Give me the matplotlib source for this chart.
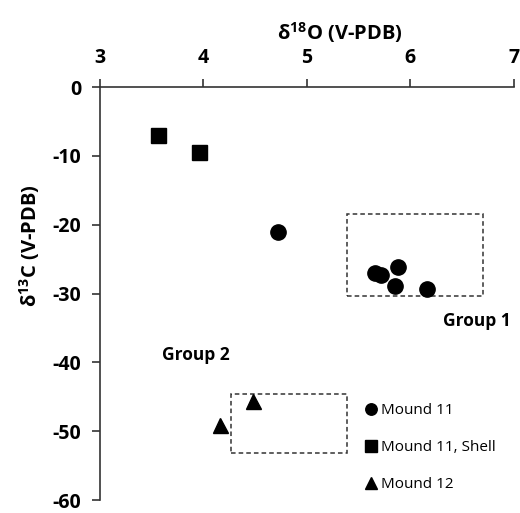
import matplotlib
matplotlib.use("Agg")
import matplotlib.pyplot as plt
from matplotlib.patches import Rectangle

plt.rcParams['font.family'] = ['Open Sans', 'DejaVu Sans']
plt.rcParams['mathtext.fontset'] = 'custom'
plt.rcParams['mathtext.rm'] = 'Open Sans:bold'
plt.rcParams['mathtext.bf'] = 'Open Sans:bold'
plt.rcParams['axes.unicode_minus'] = False

# data
m11_d18o = [4.72, 5.66, 5.72, 5.88, 5.85, 6.16]
m11_d13c = [-21.1, -27.0, -27.3, -26.1, -28.9, -29.4]
shell_d18o = [3.56, 3.96]
shell_d13c = [-6.9, -9.5]
m12_d18o = [4.16, 4.48]
m12_d13c = [-49.1, -45.6]

# group boxes: (x0, y0, x1, y1)
group1_box = (5.39, -30.3, 6.70, -18.5)
group2_box = (4.27, -53.2, 5.39, -44.6)

xticks = [3, 4, 5, 6, 7]
yticks = [0, -10, -20, -30, -40, -50, -60]

fig = plt.figure(figsize=(5.2, 5.13), dpi=100)
ax = fig.add_axes([0.1923, 0.0253, 0.7957, 0.8051])

ax.plot(m11_d18o, m11_d13c, 'o', color='black', markersize=11, label='Mound 11', clip_on=False)
ax.plot(shell_d18o, shell_d13c, 's', color='black', markersize=10.8, label='Mound 11, Shell', clip_on=False)
ax.plot(m12_d18o, m12_d13c, '^', color='black', markersize=10.8, label='Mound 12', clip_on=False)

for x0, y0, x1, y1 in [group1_box, group2_box]:
    ax.add_patch(Rectangle((x0, y0), x1 - x0, y1 - y0, fill=False,
                           edgecolor='#333333', linestyle=(0, (3, 2)), linewidth=1.1))

ax.text(6.32, -34.0, 'Group 1', fontsize=12.5, fontweight='bold', va='center', ha='left')
ax.text(3.6, -38.9, 'Group 2', fontsize=12.5, fontweight='bold', va='center', ha='left')

ax.set_xlim(3, 7)
ax.set_ylim(-60, 0)
ax.set_xticks(xticks)
ax.set_yticks(yticks)
ax.xaxis.set_ticks_position('top')
ax.xaxis.set_label_position('top')
ax.spines['right'].set_visible(False)
ax.spines['bottom'].set_visible(False)
for s in ['left', 'top']:
    ax.spines[s].set_color('#333333')
    ax.spines[s].set_linewidth(1.2)
ax.tick_params(direction='out', length=5.5, width=1.2, color='#333333', labelsize=14)
ax.tick_params(axis='x', pad=8)
ax.tick_params(axis='y', pad=8)
for lbl in ax.get_xticklabels() + ax.get_yticklabels():
    lbl.set_fontweight('bold')

ax.set_xlabel(r'δ$^{18}$O' + ' (V-PDB)', fontsize=14.5, fontweight='bold')
ax.xaxis.set_label_coords(0.58, 1.115)
ax.set_ylabel(r'δ$^{13}$C' + ' (V-PDB)', fontsize=14.5, fontweight='bold')
ax.yaxis.set_label_coords(-0.14, 0.615)

leg = ax.legend(loc='upper left', bbox_to_anchor=(0.63, 0.25), frameon=False,
                fontsize=11, markerscale=0.75, handlelength=0.6, handletextpad=0.3,
                labelspacing=1.45, borderaxespad=0)

fig.savefig('out.png', dpi=100)
